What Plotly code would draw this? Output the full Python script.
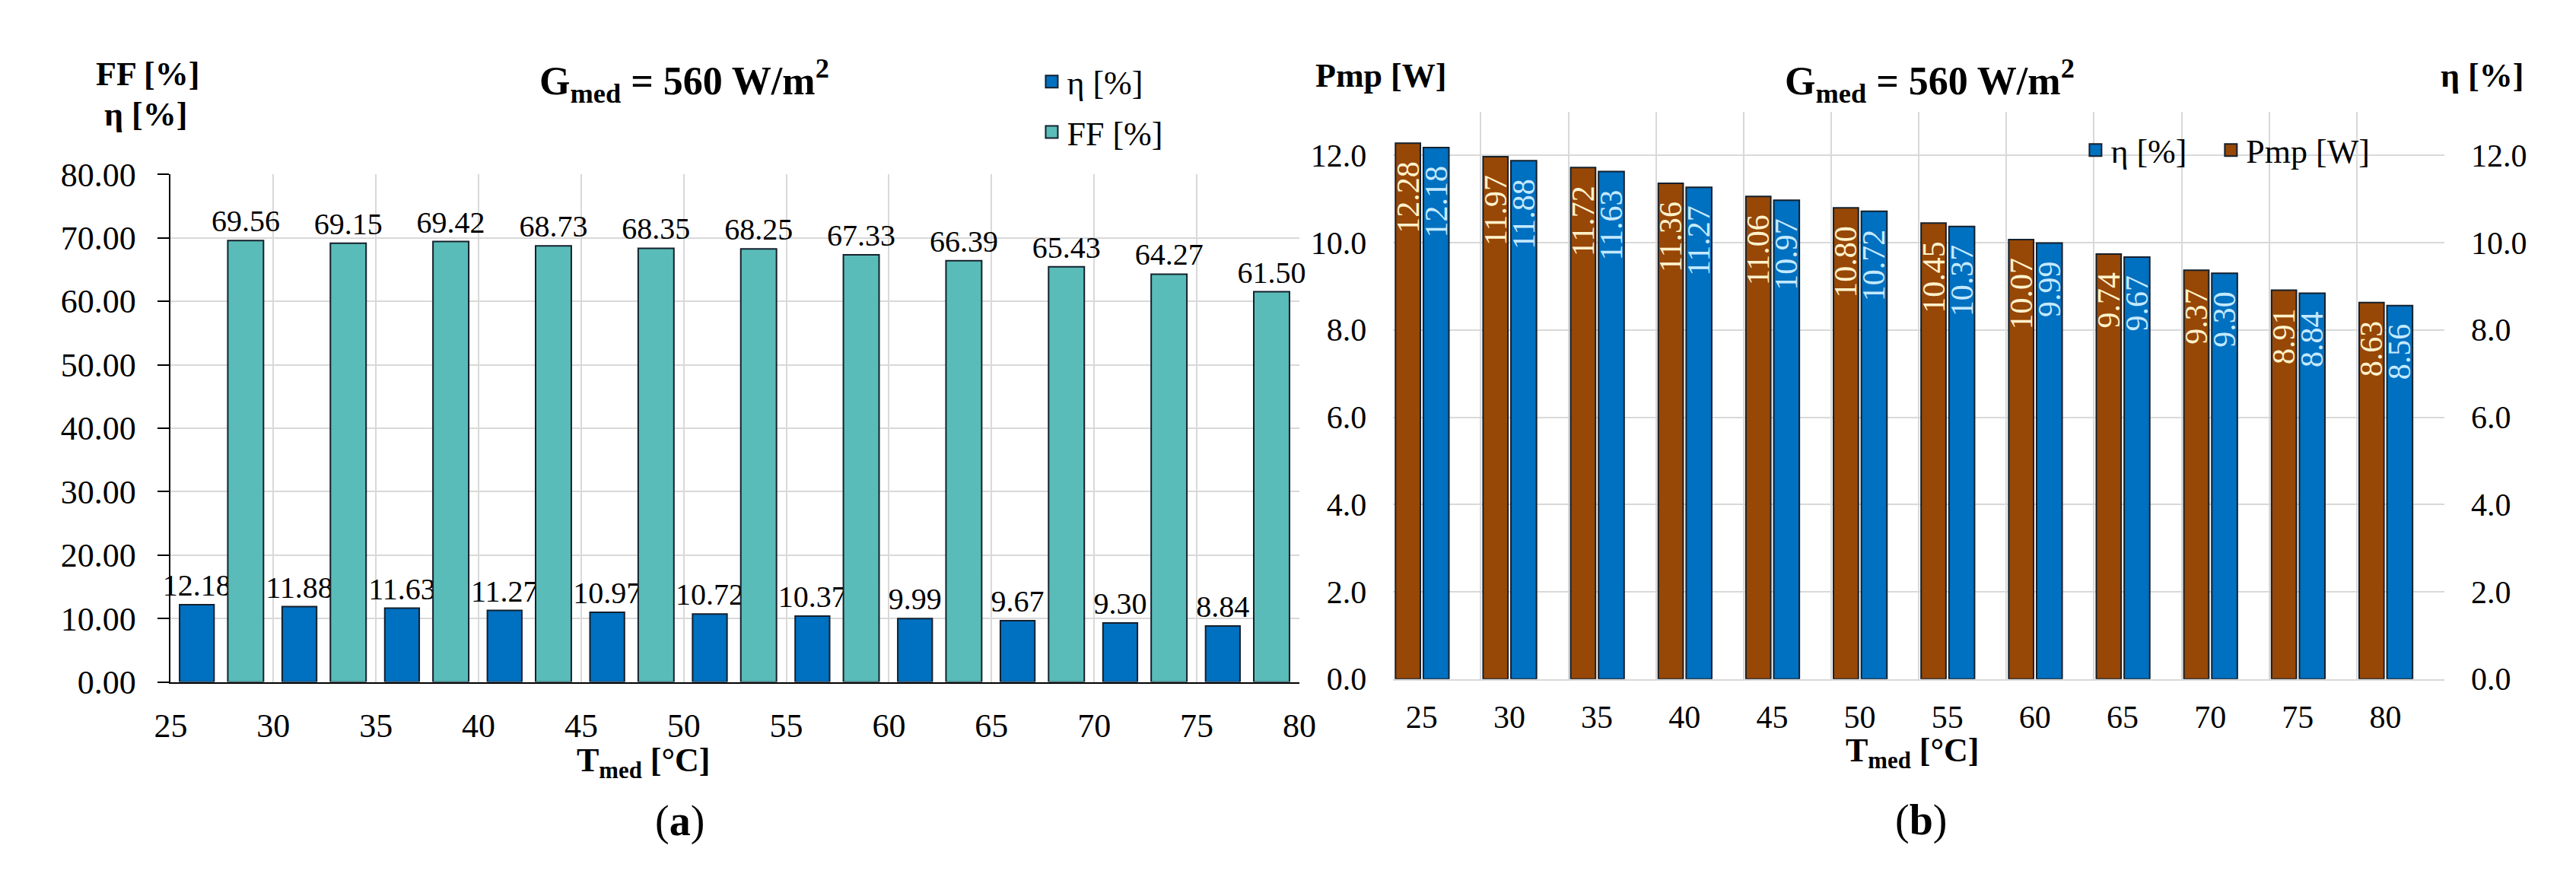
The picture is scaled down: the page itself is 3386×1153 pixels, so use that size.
import plotly.graph_objects as go

W, H = 3386, 1153
FONT = "Liberation Serif, Times New Roman, serif"

# chart (a): bins start at these temperatures, labels sit on the bin edges
temps_a = [25, 30, 35, 40, 45, 50, 55, 60, 65, 70, 75]
ticks_a = [25, 30, 35, 40, 45, 50, 55, 60, 65, 70, 75, 80]
eta_a = [12.18, 11.88, 11.63, 11.27, 10.97, 10.72, 10.37, 9.99, 9.67, 9.30, 8.84]
ff_a = [69.56, 69.15, 69.42, 68.73, 68.35, 68.25, 67.33, 66.39, 65.43, 64.27, 61.50]

# chart (b)
temps_b = [25, 30, 35, 40, 45, 50, 55, 60, 65, 70, 75, 80]
pmp_b = [12.28, 11.97, 11.72, 11.36, 11.06, 10.80, 10.45, 10.07, 9.74, 9.37, 8.91, 8.63]
eta_b = [12.18, 11.88, 11.63, 11.27, 10.97, 10.72, 10.37, 9.99, 9.67, 9.30, 8.84, 8.56]

BLUE = "#0070C0"
TEAL = "#5ABCB8"
BROWN = "#974706"
EDGE = "#14202C"
GRID = "#D9D9D9"
NB = "\u00a0"


def px(x):
    return x / W


def py(y):
    return 1 - y / H


fig = go.Figure()

# ---- (a) ----
fig.add_trace(go.Bar(
    x=temps_a, y=eta_a, offset=0.43, width=1.68, name="η [%]",
    marker=dict(color=BLUE, line=dict(color=EDGE, width=2)),
    text=eta_a, texttemplate="%{y:.2f}", textposition="outside",
    textfont=dict(family=FONT, size=40, color="black"),
    constraintext="none", cliponaxis=False, showlegend=False,
    xaxis="x", yaxis="y"))
fig.add_trace(go.Bar(
    x=temps_a, y=ff_a, offset=2.78, width=1.74, name="FF [%]",
    marker=dict(color=TEAL, line=dict(color=EDGE, width=2)),
    text=ff_a, texttemplate="%{y:.2f}", textposition="outside",
    textfont=dict(family=FONT, size=40, color="black"),
    constraintext="none", cliponaxis=False, showlegend=False,
    xaxis="x", yaxis="y"))

# ---- (b) ----
fig.add_trace(go.Bar(
    x=temps_b, y=pmp_b, offset=-1.50, width=1.42, name="Pmp [W]",
    marker=dict(color=BROWN, line=dict(color=EDGE, width=2)),
    text=pmp_b, texttemplate="%{y:.2f}" + NB * 2, textposition="inside",
    insidetextanchor="end", textangle=-90,
    insidetextfont=dict(family=FONT, size=42, color="#FFF2CC"),
    constraintext="none", showlegend=False,
    xaxis="x2", yaxis="y2"))
fig.add_trace(go.Bar(
    x=temps_b, y=eta_b, offset=0.09, width=1.46, name="η [%]",
    marker=dict(color=BLUE, line=dict(color=EDGE, width=2)),
    text=eta_b, texttemplate="%{y:.2f}" + NB * 2, textposition="inside",
    insidetextanchor="end", textangle=-90,
    insidetextfont=dict(family=FONT, size=42, color="#C4E9FF"),
    constraintext="none", showlegend=False,
    xaxis="x2", yaxis="y3"))

# legend entries (square swatches)
for nm, col, lg, ax, grp in [("η [%]", BLUE, "legend", "y", "a1"),
                             ("FF [%]", TEAL, "legend", "y", "a2"),
                             ("η [%]" + NB * 3, BLUE, "legend2", "y2", "b1"),
                             ("Pmp [W]", BROWN, "legend2", "y2", "b2")]:
    fig.add_trace(go.Scatter(
        x=[None], y=[None], mode="markers", name=nm, legend=lg, legendgroup=grp,
        marker=dict(symbol="square", size=23, color=col, line=dict(color=EDGE, width=2)),
        xaxis="x" if ax == "y" else "x2", yaxis=ax))

tick_font = dict(family=FONT, size=44, color="black")
tick_font_b = dict(family=FONT, size=42, color="black")

fig.update_layout(
    width=W, height=H, margin=dict(l=0, r=0, t=0, b=0),
    paper_bgcolor="white", plot_bgcolor="white",
    font=dict(family=FONT, color="black"),
    barmode="overlay",
    xaxis=dict(domain=[px(197), px(1700)], anchor="y", range=[25, 80],
               tickmode="array", tickvals=ticks_a, showgrid=True,
               gridcolor=GRID, gridwidth=2, showline=True, linecolor="black",
               linewidth=2, ticks="", zeroline=False, tickfont=tick_font,
               ticklabelstandoff=18),
    yaxis=dict(domain=[py(903), py(206)], anchor="x", range=[0, 80],
               dtick=10, tickformat=".2f", showgrid=True, gridcolor=GRID,
               gridwidth=2, showline=True, linecolor="black", linewidth=2,
               ticks="outside", ticklen=15, tickwidth=2, tickcolor="black",
               zeroline=False, tickfont=tick_font, ticklabelstandoff=20),
    xaxis2=dict(domain=[px(1825), px(3225)], anchor="y2", range=[23.37, 83.37],
                tickmode="array", tickvals=temps_b, showgrid=False,
                minor=dict(tick0=23.37, dtick=5, showgrid=True, gridcolor=GRID,
                           gridwidth=2, ticks=""),
                showline=True, linecolor=GRID, linewidth=2, ticks="",
                zeroline=False, tickfont=tick_font_b, ticklabelstandoff=12),
    yaxis2=dict(domain=[py(899), py(120)], anchor="x2", range=[0, 13],
                tickmode="array", tickvals=[0, 2, 4, 6, 8, 10, 12],
                tickformat=".1f", showgrid=True, gridcolor=GRID, gridwidth=2,
                showline=False, zeroline=False, ticks="",
                tickfont=tick_font_b, ticklabelstandoff=34),
    yaxis3=dict(domain=[py(899), py(120)], anchor="x2", overlaying="y2",
                side="right", range=[0, 13],
                tickmode="array", tickvals=[0, 2, 4, 6, 8, 10, 12],
                tickformat=".1f", showgrid=False, showline=False,
                zeroline=False, ticks="", tickfont=tick_font_b,
                ticklabelstandoff=34),
    legend=dict(x=px(1350), y=py(42), xanchor="left", yanchor="top",
                orientation="v", font=dict(family=FONT, size=44),
                tracegroupgap=6, bgcolor="rgba(0,0,0,0)", itemclick=False),
    legend2=dict(x=px(2740), y=py(136), xanchor="left", yanchor="top",
                 orientation="h", font=dict(family=FONT, size=44),
                 tracegroupgap=0, bgcolor="rgba(0,0,0,0)", itemclick=False),
)

title = "<b>G<sub>med</sub> = 560 W/m<sup>2</sup></b>"
ann = [
    (title, 881, 78, 52),
    (title, 2540, 78, 52),
    ("<b>FF [%]</b>", 166, 68, 44),
    ("<b>η [%]</b>", 164, 124, 44),
    ("<b>Pmp [W]</b>", 1808, 70, 44),
    ("<b>η [%]</b>", 3275, 70, 44),
    ("<b>T<sub>med</sub> [°C]</b>", 827, 1014, 44),
    ("<b>T<sub>med</sub> [°C]</b>", 2517, 1000, 44),
    ("(<b>a</b>)", 875, 1094, 56),
    ("(<b>b</b>)", 2528, 1093, 56),
]
for txt, x, y, s in ann:
    fig.add_annotation(text=txt, x=px(x), y=py(y), xref="paper", yref="paper",
                       xanchor="center", yanchor="middle", showarrow=False,
                       font=dict(family=FONT, size=s, color="black"))

fig.write_html("out.html")
